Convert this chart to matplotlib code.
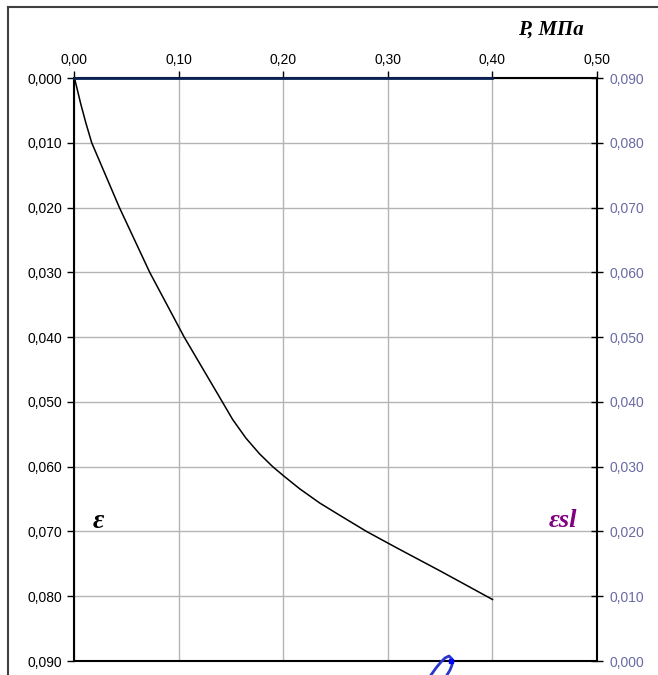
import matplotlib
matplotlib.use('Agg')
import matplotlib.pyplot as plt
from matplotlib.lines import Line2D
from matplotlib.ticker import FuncFormatter

# P, MPa and settlement strain eps
P = [0.0, 0.006, 0.011, 0.0165, 0.043, 0.072, 0.105, 0.1415, 0.1513,
     0.1641, 0.177, 0.1897, 0.200, 0.2154, 0.2346, 0.2538, 0.2795, 0.300,
     0.3115, 0.35, 0.40]
eps = [0.0, 0.004, 0.007, 0.010, 0.020, 0.030, 0.040, 0.050, 0.0527,
       0.0556, 0.0580, 0.060, 0.0614, 0.0634, 0.0656, 0.0675, 0.070, 0.0718,
       0.0728, 0.0761, 0.0805]
# eps_sl series (sits on the top edge of the secondary axis)
P_sl = [0.0, 0.40]
eps_sl = [0.090, 0.090]

x_ticks = [0.0, 0.1, 0.2, 0.3, 0.4, 0.5]
y_ticks = [0.0, 0.01, 0.02, 0.03, 0.04, 0.05, 0.06, 0.07, 0.08, 0.09]

plt.rcParams['font.family'] = ['Liberation Sans', 'DejaVu Sans']
serif = ['Liberation Serif', 'DejaVu Serif']

fig = plt.figure(figsize=(6.58, 6.75), dpi=100)
ax = fig.add_axes([0.1132, 0.0207, 0.7941, 0.8637])

ax.plot(P, eps, color='black', lw=1.1, zorder=3)
ax.set_xlim(0, 0.5)
ax.set_ylim(0.09, 0.0)
ax.set_xticks(x_ticks)
ax.set_yticks(y_ticks)
ax.xaxis.tick_top()
ax.xaxis.set_major_formatter(FuncFormatter(lambda v, p: ('%.2f' % v).replace('.', ',')))
ax.yaxis.set_major_formatter(FuncFormatter(lambda v, p: ('%.3f' % v).replace('.', ',')))
ax.tick_params(axis='x', direction='out', length=5, width=1, pad=3, labelsize=10)
ax.tick_params(axis='y', direction='out', length=5, width=1, pad=4, labelsize=10)
ax.grid(True, color='#b4b4b4', lw=1)
for s in ax.spines.values():
    s.set_color('black')
    s.set_linewidth(1.5)

ax2 = ax.twinx()
ax2.plot(P_sl, eps_sl, color='#0c2256', lw=2, zorder=4, clip_on=False)
ax2.set_ylim(0, 0.09)
ax2.set_yticks(y_ticks)
ax2.yaxis.set_major_formatter(FuncFormatter(lambda v, p: ('%.3f' % v).replace('.', ',')))
ax2.tick_params(axis='y', direction='inout', length=8, width=1, pad=5,
                labelsize=10, labelcolor='#6a6aa2')
for s in ax2.spines.values():
    s.set_visible(False)

fig.text(0.837, 0.9556, 'P, МПа', fontsize=15, fontweight='bold', fontstyle='italic',
         family=serif, ha='center', va='center')
fig.text(0.150, 0.2267, 'ε', fontsize=20, fontweight='bold', fontstyle='italic',
         family=serif, ha='center', va='center')
fig.text(0.8556, 0.2296, 'εsl', fontsize=19, fontweight='bold', fontstyle='italic',
         color='#800080', family=serif, ha='center', va='center')

# outer chart border (cut at right and bottom)
W, H = 658, 675
fig.add_artist(Line2D([8 / W, 1], [1 - 7 / H, 1 - 7 / H], color='#404040', lw=1.5))
fig.add_artist(Line2D([8 / W, 8 / W], [0, 1 - 7 / H], color='#404040', lw=1.5))

# blue pen stroke at the bottom
sx = [431, 436, 441, 445, 449, 452, 452, 450, 447]
sy = [675, 668, 662, 658, 656, 659, 665, 670, 675]
fig.add_artist(Line2D([v / W for v in sx], [1 - v / H for v in sy], color='#2a35d0', lw=2))
fig.add_artist(Line2D([451 / W], [1 - 661 / H], marker='s', ms=3.5, color='#0000ff', lw=0))

fig.savefig('out.png', dpi=100)
